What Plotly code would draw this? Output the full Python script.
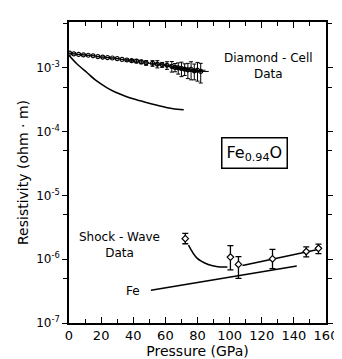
import plotly.graph_objects as go

# ---- data ----
# Diamond-cell data (FeO), pressure in GPa, resistivity in ohm*m
dc_pressure = [0.5, 3, 6, 9, 12, 15, 18, 21, 24, 27, 30, 33, 36, 39, 42, 45, 48, 52, 55, 58,
               61, 64, 66, 68, 70, 72, 74, 76, 78, 80, 82]
dc_resist = [1.70e-3, 1.66e-3, 1.63e-3, 1.60e-3, 1.58e-3, 1.55e-3, 1.50e-3, 1.48e-3, 1.45e-3,
             1.43e-3, 1.40e-3, 1.36e-3, 1.33e-3, 1.30e-3, 1.28e-3, 1.24e-3, 1.20e-3, 1.18e-3,
             1.15e-3, 1.12e-3, 1.10e-3, 1.06e-3, 1.02e-3, 1.00e-3, 0.98e-3, 0.96e-3, 0.93e-3,
             0.95e-3, 0.90e-3, 0.92e-3, 0.88e-3]
dc_resist_err = [0, 0, 0, 0, 0, 0, 0, 0, 0, 0, 0, 0, 0.05e-3, 0.06e-3, 0.08e-3, 0.08e-3,
                 0.10e-3, 0.12e-3, 0.15e-3, 0.10e-3, 0.15e-3, 0.20e-3, 0.15e-3, 0.20e-3,
                 0.25e-3, 0.20e-3, 0.25e-3, 0.30e-3, 0.25e-3, 0.30e-3, 0.30e-3]
dc_pressure_err = [0, 0, 0, 0, 0, 0, 0, 0, 0, 0, 0, 0, 1, 1, 1.5, 1.5, 2, 3, 3, 3, 3, 4, 3,
                   4, 4, 4, 5, 4, 5, 5, 5]

# Lower curve below the diamond-cell data
dc_curve_pressure = [0, 5, 11.3, 17, 23.2, 29, 35.1, 41, 47.0, 56.0, 64.8, 71.4]
dc_curve_resist = [1.58e-3, 1.15e-3, 8.4e-4, 6.3e-4, 4.96e-4, 4.15e-4, 3.6e-4, 3.22e-4,
                   2.92e-4, 2.55e-4, 2.29e-4, 2.2e-4]

# Shock-wave data (FeO)
sw_pressure = [72.4, 100.5, 105.5, 126.7, 147.7, 155.3]
sw_resist = [2.1e-6, 1.08e-6, 8.3e-7, 1.01e-6, 1.32e-6, 1.48e-6]
sw_err_plus = [0.45e-6, 0.55e-6, 0.27e-6, 0.42e-6, 0.24e-6, 0.25e-6]
sw_err_minus = [0.35e-6, 0.40e-6, 0.33e-6, 0.30e-6, 0.23e-6, 0.26e-6]

# Shock-wave fits
sw_curve_pressure = [74.4, 79.7, 86.7, 92.6, 98.6]
sw_curve_resist = [1.66e-6, 1.04e-6, 8.26e-7, 7.62e-7, 7.55e-7]
sw_line_pressure = [108, 155]
sw_line_resist = [7.97e-7, 1.42e-6]

# Fe reference line
fe_pressure = [51, 141.8]
fe_resist = [3.26e-7, 7.82e-7]

# axis ticks
x_ticks = [0, 20, 40, 60, 80, 100, 120, 140, 160]
y_tickvals = [1e-7, 1e-6, 1e-5, 1e-4, 1e-3]
y_ticktext = ["10<sup>-7</sup>", "10<sup>-6</sup>", "10<sup>-5</sup>", "10<sup>-4</sup>", "10<sup>-3</sup>"]
y_minor = [5e-7, 5e-6, 5e-5, 5e-4, 5e-3]

FONT = "DejaVu Sans"
fig = go.Figure()

line_style = dict(color="black", width=1.5)

fig.add_trace(go.Scatter(x=dc_curve_pressure, y=dc_curve_resist, mode="lines",
                         line=dict(shape="spline", smoothing=0.8, **line_style), showlegend=False))
fig.add_trace(go.Scatter(x=sw_curve_pressure, y=sw_curve_resist, mode="lines",
                         line=dict(shape="spline", **line_style), showlegend=False))
fig.add_trace(go.Scatter(x=sw_line_pressure, y=sw_line_resist, mode="lines",
                         line=line_style, showlegend=False))
fig.add_trace(go.Scatter(x=fe_pressure, y=fe_resist, mode="lines",
                         line=line_style, showlegend=False))

fig.add_trace(go.Scatter(
    x=dc_pressure, y=dc_resist, mode="markers",
    marker=dict(symbol="circle-open", size=4, color="black", line=dict(width=1.2)),
    error_y=dict(type="data", array=dc_resist_err, color="black", thickness=1, width=2),
    error_x=dict(type="data", array=dc_pressure_err, color="black", thickness=1, width=0),
    showlegend=False))

fig.add_trace(go.Scatter(
    x=sw_pressure, y=sw_resist, mode="markers",
    marker=dict(symbol="diamond", size=5, color="white", line=dict(width=1.2, color="black")),
    error_y=dict(type="data", symmetric=False, array=sw_err_plus, arrayminus=sw_err_minus,
                 color="black", thickness=1.3, width=3),
    showlegend=False))

ann_font = dict(family=FONT, size=12, color="black")
fig.add_annotation(x=124, y=-2.97, xref="x", yref="y", text="Diamond - Cell<br>Data",
                   showarrow=False, font=ann_font, align="center")
fig.add_annotation(x=31.5, y=-5.78, xref="x", yref="y", text="Shock - Wave<br>Data",
                   showarrow=False, font=ann_font, align="center")
fig.add_annotation(x=40, y=-6.50, xref="x", yref="y", text="Fe",
                   showarrow=False, font=ann_font)
fig.add_annotation(x=115.4, y=-4.34, xref="x", yref="y", text="Fe<sub>0.94</sub>O",
                   showarrow=False, font=dict(family=FONT, size=16, color="black"),
                   bordercolor="black", borderwidth=1.5, borderpad=4, bgcolor="white")

fig.update_xaxes(range=[0, 160], tickvals=x_ticks, ticks="inside", ticklen=6,
                 tickwidth=1.3, tickcolor="black", showline=True, linecolor="black",
                 linewidth=1.5, mirror="ticks", showgrid=False, zeroline=False,
                 minor=dict(dtick=10, ticks="inside", ticklen=4, tickcolor="black", tickwidth=1.2),
                 tickfont=dict(family=FONT, size=13, color="black"),
                 title=dict(text="Pressure (GPa)", font=dict(family=FONT, size=14, color="black"),
                            standoff=2))
fig.update_yaxes(type="log", range=[-7, -2.28], tickvals=y_tickvals, ticktext=y_ticktext,
                 ticks="outside", ticklen=5, tickwidth=1.3, tickcolor="black",
                 showline=True, linecolor="black", linewidth=1.5, mirror="ticks",
                 showgrid=False, zeroline=False,
                 minor=dict(tickvals=y_minor, ticks="outside", ticklen=4, tickcolor="black",
                            tickwidth=1.2, showgrid=False),
                 tickfont=dict(family=FONT, size=12, color="black"),
                 title=dict(text="Resistivity (ohm · m)", font=dict(family=FONT, size=14, color="black"),
                            standoff=4))

fig.update_layout(width=342, height=359, margin=dict(l=61, r=12, t=13, b=37),
                  plot_bgcolor="white", paper_bgcolor="white", showlegend=False)

fig.write_html("out.html")
